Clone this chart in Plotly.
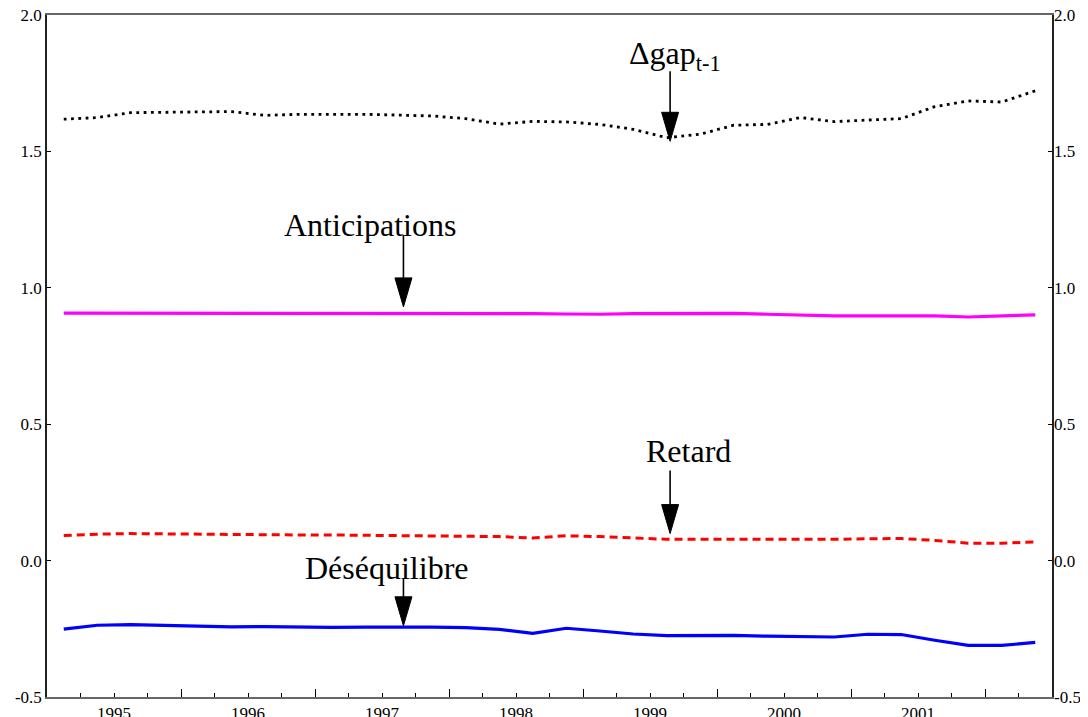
import plotly.graph_objects as go

# ---------------- data ----------------
periods = ["1995Q1", "1995Q2", "1995Q3", "1995Q4", "1996Q1", "1996Q2", "1996Q3", "1996Q4",
           "1997Q1", "1997Q2", "1997Q3", "1997Q4", "1998Q1", "1998Q2", "1998Q3", "1998Q4",
           "1999Q1", "1999Q2", "1999Q3", "1999Q4", "2000Q1", "2000Q2", "2000Q3", "2000Q4",
           "2001Q1", "2001Q2", "2001Q3", "2001Q4", "2002Q1", "2002Q2"]

dgap = [1.618, 1.624, 1.642, 1.644, 1.646, 1.646, 1.632, 1.636, 1.636, 1.636,
        1.633, 1.630, 1.620, 1.600, 1.610, 1.608, 1.599, 1.581, 1.550, 1.563,
        1.596, 1.599, 1.624, 1.609, 1.615, 1.620, 1.664, 1.685, 1.681, 1.722]

anticipations = [0.907, 0.907, 0.907, 0.907, 0.907, 0.907, 0.907, 0.907, 0.907, 0.907,
                 0.907, 0.907, 0.907, 0.906, 0.905, 0.904, 0.903, 0.905, 0.906, 0.907,
                 0.906, 0.903, 0.899, 0.897, 0.897, 0.897, 0.897, 0.893, 0.897, 0.901]

retard = [0.092, 0.097, 0.099, 0.098, 0.096, 0.094, 0.094, 0.094, 0.094, 0.093,
          0.092, 0.091, 0.090, 0.088, 0.083, 0.091, 0.088, 0.083, 0.078, 0.078,
          0.078, 0.077, 0.077, 0.078, 0.080, 0.081, 0.074, 0.064, 0.064, 0.068]

desequilibre = [-0.251, -0.237, -0.235, -0.238, -0.241, -0.243, -0.242, -0.244, -0.245, -0.244,
                -0.243, -0.244, -0.246, -0.252, -0.267, -0.248, -0.258, -0.269, -0.275, -0.274,
                -0.274, -0.277, -0.278, -0.280, -0.270, -0.271, -0.292, -0.311, -0.311, -0.300]

year_labels = ["1995", "1996", "1997", "1998", "1999", "2000", "2001"]
y_ticks = [-0.5, 0.0, 0.5, 1.0, 1.5, 2.0]
y_ticktext = ["-0.5", "0.0", "0.5", "1.0", "1.5", "2.0"]

# labels: text, text x, text y, arrow x, arrow tip y, arrow length (px)
labels = [
    ("Δgap<sub>t-1</sub>", 1999.69, 1.85, 1999.65, 1.537, 70),
    ("Anticipations", 1997.41, 1.232, 1997.66, 0.930, 72),
    ("Retard", 1999.79, 0.40, 1999.65, 0.099, 63),
    ("Déséquilibre", 1997.54, -0.026, 1997.66, -0.239, 47),
]

# ---------------- helpers ----------------
def quarter_pos(p):
    year = int(p[:4])
    q = int(p[-1])
    return year + (q - 0.5) / 4.0

x = [quarter_pos(p) for p in periods]
label_pos = [int(y) + 0.5 for y in year_labels]
year_bounds = [int(y) + 1 for y in year_labels]

SERIF = "Liberation Serif, Times New Roman, serif"

fig = go.Figure()
fig.add_trace(go.Scatter(x=x, y=dgap, mode="lines", name="Δgap",
                         line=dict(color="black", width=2.8, dash="2.8px,4.5px")))
fig.add_trace(go.Scatter(x=x, y=anticipations, mode="lines", name="Anticipations",
                         line=dict(color="#ff00ff", width=3.2)))
fig.add_trace(go.Scatter(x=x, y=retard, mode="lines", name="Retard",
                         line=dict(color="#ff0000", width=3, dash="8px,5px")))
fig.add_trace(go.Scatter(x=x, y=desequilibre, mode="lines", name="Déséquilibre",
                         line=dict(color="#0000ff", width=3.2)))
# helper traces (no visible marks) that activate the secondary axes
fig.add_trace(go.Scatter(x=[x[0]], y=[dgap[0]], xaxis="x2", yaxis="y", mode="lines",
                         showlegend=False, hoverinfo="skip", line=dict(width=0)))
fig.add_trace(go.Scatter(x=[x[0]], y=[dgap[0]], xaxis="x", yaxis="y2", mode="lines",
                         showlegend=False, hoverinfo="skip", line=dict(width=0)))

xr = [1995, 2002.5]
yr = [-0.5, 2.0]

for text, tx, ty, ax_x, tip_y, length in labels:
    fig.add_annotation(x=tx, y=ty, xref="x", yref="y", text=text, showarrow=False,
                       xanchor="center", yanchor="middle",
                       font=dict(family=SERIF, size=32, color="black"))
    # shaft
    fig.add_shape(type="line", xref="x", yref="y", xsizemode="pixel", ysizemode="pixel",
                  xanchor=ax_x, yanchor=tip_y, x0=0, x1=0, y0=20, y1=length,
                  line=dict(color="black", width=1.6))
    # narrow filled arrow head
    fig.add_shape(type="path", xref="x", yref="y", xsizemode="pixel", ysizemode="pixel",
                  xanchor=ax_x, yanchor=tip_y, path="M -8.5 29 L 8.5 29 L 0 0 Z",
                  fillcolor="black", line=dict(color="black", width=1))

# the page body has an 8px margin; the figure is sized so the plot area
# (x 47..1044, y 15..697) lands at the reference position in the window
fig.update_layout(
    width=1080, height=709,
    margin=dict(l=39, r=36, t=7, b=20),
    paper_bgcolor="white", plot_bgcolor="white",
    showlegend=False,
    font=dict(family=SERIF, size=17, color="black"),
    xaxis=dict(range=xr, tickmode="array", tickvals=label_pos, ticktext=year_labels,
               ticks="inside", ticklen=4, tickwidth=1.2, tickcolor="black",
               minor=dict(tickmode="linear", tick0=1995, dtick=0.25, ticks="inside",
                          ticklen=4, tickwidth=1.2, tickcolor="black"),
               showline=True, linecolor="#666666", linewidth=2, mirror=True,
               showgrid=False, zeroline=False, automargin=False,
               ticklabeloverflow="allow",
               tickfont=dict(family=SERIF, size=17, color="black")),
    xaxis2=dict(range=xr, overlaying="x", anchor="y", side="bottom",
                tickmode="array", tickvals=year_bounds, showticklabels=False,
                ticks="inside", ticklen=8, tickwidth=1.4, tickcolor="black",
                showline=False, showgrid=False, zeroline=False, automargin=False),
    yaxis=dict(range=yr, tickmode="array", tickvals=y_ticks, ticktext=y_ticktext,
               ticks="inside", ticklen=4, tickwidth=1.2, tickcolor="black",
               showline=True, linecolor="#222222", linewidth=1.6, mirror="ticks",
               showgrid=False, zeroline=False, automargin=False,
               ticklabeloverflow="allow",
               tickfont=dict(family=SERIF, size=17, color="black")),
    yaxis2=dict(range=yr, overlaying="y", anchor="free", position=1.0, side="right",
                tickmode="array", tickvals=y_ticks, ticktext=y_ticktext,
                ticks="", showline=False, ticklabelstandoff=1,
                showgrid=False, zeroline=False, automargin=False,
                ticklabeloverflow="allow",
                tickfont=dict(family=SERIF, size=17, color="black")),
)

fig.write_html("out.html")
